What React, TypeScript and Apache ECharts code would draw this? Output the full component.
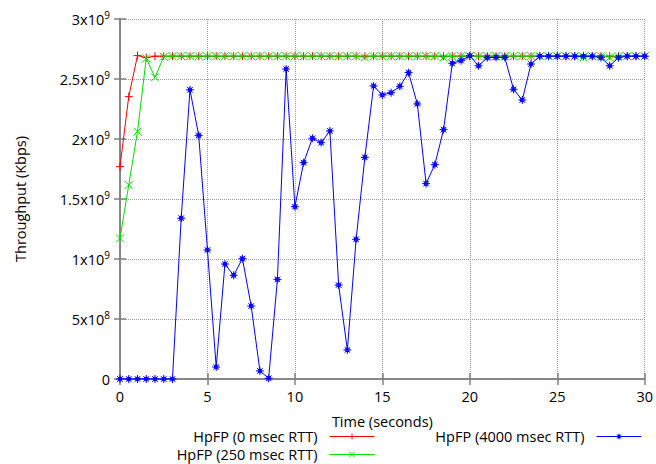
import React, { useEffect, useRef } from "react";
import * as echarts from "echarts";

const times = [
  0, 0.5, 1, 1.5, 2, 2.5, 3, 3.5, 4, 4.5, 5, 5.5, 6, 6.5, 7, 7.5, 8, 8.5, 9, 9.5,
  10, 10.5, 11, 11.5, 12, 12.5, 13, 13.5, 14, 14.5, 15, 15.5, 16, 16.5, 17, 17.5,
  18, 18.5, 19, 19.5, 20, 20.5, 21, 21.5, 22, 22.5, 23, 23.5, 24, 24.5, 25, 25.5,
  26, 26.5, 27, 27.5, 28, 28.5, 29, 29.5, 30,
];

const rtt0 = [
  1.77e9, 2.353e9, 2.695e9, 2.678e9, 2.69e9, 2.69e9, 2.69e9, 2.69e9, 2.69e9, 2.69e9,
  2.69e9, 2.69e9, 2.69e9, 2.69e9, 2.69e9, 2.69e9, 2.69e9, 2.69e9, 2.69e9, 2.69e9,
  2.69e9, 2.69e9, 2.69e9, 2.69e9, 2.69e9, 2.69e9, 2.69e9, 2.69e9, 2.69e9, 2.69e9,
  2.69e9, 2.69e9, 2.69e9, 2.69e9, 2.69e9, 2.69e9, 2.69e9, 2.69e9, 2.69e9, 2.69e9,
  2.69e9, 2.69e9, 2.69e9, 2.69e9, 2.69e9, 2.69e9, 2.69e9, 2.69e9, 2.69e9, 2.69e9,
  2.69e9, 2.69e9, 2.69e9, 2.69e9, 2.69e9, 2.69e9, 2.69e9, 2.69e9, 2.69e9, 2.69e9,
  2.69e9,
];

const rtt250 = [
  1.172e9, 1.617e9, 2.061e9, 2.672e9, 2.514e9, 2.686e9, 2.69e9, 2.69e9, 2.69e9, 2.69e9,
  2.69e9, 2.69e9, 2.69e9, 2.69e9, 2.69e9, 2.69e9, 2.69e9, 2.69e9, 2.69e9, 2.69e9,
  2.69e9, 2.69e9, 2.69e9, 2.69e9, 2.69e9, 2.69e9, 2.69e9, 2.69e9, 2.68e9, 2.69e9,
  2.69e9, 2.69e9, 2.69e9, 2.69e9, 2.69e9, 2.69e9, 2.69e9, 2.68e9, 2.69e9, 2.69e9,
  2.69e9, 2.69e9, 2.69e9, 2.69e9, 2.69e9, 2.69e9, 2.69e9, 2.69e9, 2.69e9, 2.69e9,
  2.69e9, 2.69e9, 2.69e9, 2.68e9, 2.69e9, 2.69e9, 2.68e9, 2.69e9, 2.69e9, 2.69e9,
  2.69e9,
];

const rtt4000 = [
  0, 0, 0, 0, 0, 0, 0, 1.34e9, 2.41e9, 2.03e9,
  1.075e9, 0.1e9, 0.958e9, 0.864e9, 1.003e9, 0.608e9, 0.067e9, 0.006e9, 0.83e9, 2.583e9,
  1.436e9, 1.803e9, 2.006e9, 1.97e9, 2.067e9, 0.783e9, 0.242e9, 1.164e9, 1.847e9, 2.442e9,
  2.367e9, 2.386e9, 2.439e9, 2.553e9, 2.292e9, 1.628e9, 1.786e9, 2.078e9, 2.631e9, 2.653e9,
  2.694e9, 2.61e9, 2.678e9, 2.68e9, 2.68e9, 2.414e9, 2.325e9, 2.625e9, 2.69e9, 2.69e9,
  2.69e9, 2.69e9, 2.69e9, 2.69e9, 2.69e9, 2.678e9, 2.61e9, 2.678e9, 2.69e9, 2.69e9,
  2.69e9,
];

const seriesNames = ["HpFP (0 msec RTT)", "HpFP (250 msec RTT)", "HpFP (4000 msec RTT)"];
const seriesColors = ["#ff0000", "#00dd00", "#0000ff"];

const yTickLabels: Record<string, [string, string]> = {
  "0": ["0", ""],
  "500000000": ["5x10", "8"],
  "1000000000": ["1x10", "9"],
  "1500000000": ["1.5x10", "9"],
  "2000000000": ["2x10", "9"],
  "2500000000": ["2.5x10", "9"],
  "3000000000": ["3x10", "9"],
};

const FONT = "Open Sans";
const FS = 14.5;

const plusPath = "path://M0,5L10,5M5,0L5,10";
const crossPath = "path://M1,1L9,9M1,9L9,1";
const starPath = "path://M0,5L10,5M5,0L5,10M1.5,1.5L8.5,8.5M1.5,8.5L8.5,1.5M3,3L7,3L7,7L3,7Z";

export default function App() {
  const ref = useRef<HTMLDivElement>(null);
  useEffect(() => {
    if (!ref.current) return;
    const chart = echarts.init(ref.current, null, { renderer: "svg" });
    const mk = (i: number, symbol: string) => ({
      name: seriesNames[i],
      type: "line",
      xAxisIndex: 0,
      yAxisIndex: 0,
      data: times.map((t, k) => [t, [rtt0, rtt250, rtt4000][i][k]]),
      symbol,
      symbolSize: 8,
      showSymbol: true,
      lineStyle: { color: seriesColors[i], width: 1 },
      itemStyle: { color: "none", borderColor: seriesColors[i], borderWidth: 1 },
      z: 2 + i,
      emphasis: { disabled: true },
    });
    const axisLineStyle = { color: "#808080", width: 1.5 };
    const legendBase = (i: number) => ({
      orient: "horizontal",
      align: "right",
      itemWidth: 45,
      itemHeight: 7,
      padding: 0,
      selectedMode: false,
      data: [seriesNames[i]],
      lineStyle: { width: 1, color: seriesColors[i] },
      itemStyle: { color: "transparent", borderColor: seriesColors[i], borderWidth: 1 },
      textStyle: {
        fontFamily: FONT,
        fontSize: FS,
        lineHeight: 14,
        color: "#000",
        padding: [0, 7, 0, 0],
      },
    });
    chart.setOption({
      animation: false,
      backgroundColor: "#fff",
      grid: { left: 120, right: 11, top: 19, bottom: 85 },
      legend: [
        { ...legendBase(0), right: 281, top: 429 },
        { ...legendBase(1), right: 281, top: 447 },
        { ...legendBase(2), right: 14, top: 429 },
      ],
      xAxis: [
        {
          type: "value",
          min: 0,
          max: 30,
          interval: 5,
          name: "Time (seconds)",
          nameLocation: "middle",
          nameGap: 35,
          nameTextStyle: { fontFamily: FONT, fontSize: FS, color: "#000" },
          axisLine: { show: true, lineStyle: axisLineStyle },
          axisTick: { show: true, inside: true, length: 6, lineStyle: axisLineStyle },
          axisLabel: { fontFamily: FONT, fontSize: FS, color: "#000", margin: 10 },
          splitLine: { show: true, lineStyle: { color: "#999", type: "dotted", width: 1 } },
        },
        {
          type: "value",
          position: "top",
          min: 0,
          max: 30,
          interval: 5,
          axisLine: { show: true, lineStyle: axisLineStyle },
          axisTick: { show: true, inside: true, length: 6, lineStyle: axisLineStyle },
          axisLabel: { show: false },
          splitLine: { show: false },
        },
      ],
      yAxis: [
        {
          type: "value",
          min: 0,
          max: 3e9,
          interval: 5e8,
          name: "Throughput (Kbps)",
          nameLocation: "middle",
          nameGap: 92,
          nameTextStyle: { fontFamily: FONT, fontSize: FS, color: "#000" },
          axisLine: { show: true, lineStyle: axisLineStyle },
          axisTick: { show: true, inside: true, length: 6, lineStyle: axisLineStyle },
          axisLabel: {
            margin: 10,
            formatter: (v: number) => {
              const p = yTickLabels[String(Math.round(v))];
              if (!p) return "";
              return p[1] ? `{b|${p[0]}}{s|${p[1]}}` : `{b|${p[0]}}`;
            },
            rich: {
              b: { fontFamily: FONT, fontSize: FS, color: "#000" },
              s: { fontFamily: FONT, fontSize: 10, color: "#000", padding: [0, 0, 9, 0] },
            },
          },
          splitLine: { show: true, lineStyle: { color: "#999", type: "dotted", width: 1 } },
        },
        {
          type: "value",
          position: "right",
          min: 0,
          max: 3e9,
          interval: 5e8,
          axisLine: { show: true, lineStyle: axisLineStyle },
          axisTick: { show: true, inside: true, length: 6, lineStyle: axisLineStyle },
          axisLabel: { show: false },
          splitLine: { show: false },
        },
      ],
      series: [mk(0, plusPath), mk(1, crossPath), mk(2, starPath)],
    });
    return () => chart.dispose();
  }, []);
  return <div ref={ref} style={{ width: 656, height: 464, position: "absolute", left: 0, top: 0 }} />;
}
